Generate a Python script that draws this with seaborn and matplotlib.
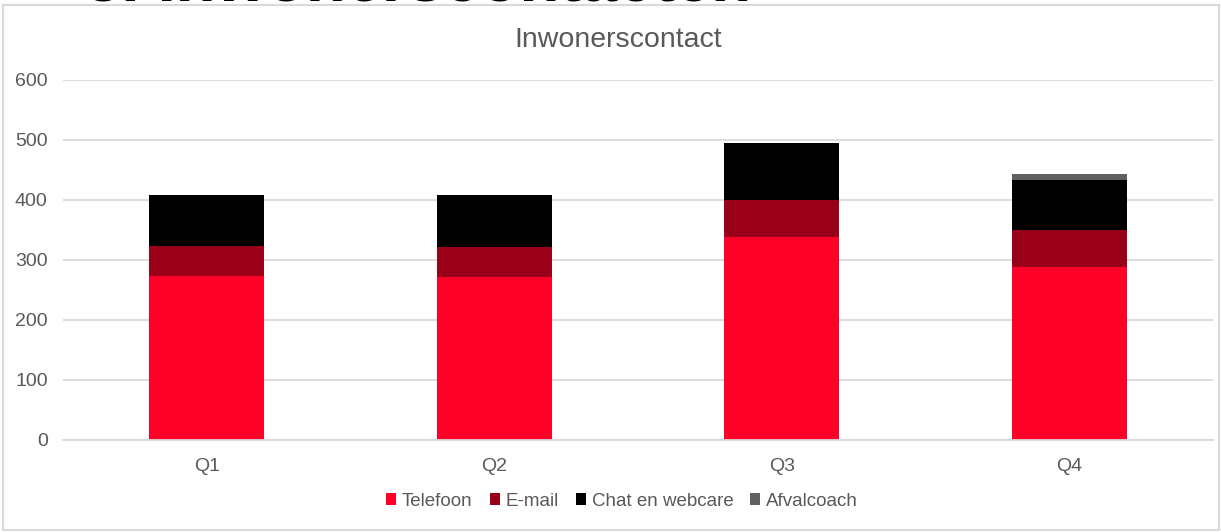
import numpy as np
import pandas as pd
import seaborn as sns
import matplotlib.pyplot as plt
from matplotlib.patches import Rectangle, Patch

# DATA
quarters = ['Q1', 'Q2', 'Q3', 'Q4']
telefoon = [273, 272, 338, 288]
email = [50, 50, 62, 62]
chat = [85, 86, 95, 83]
afvalcoach = [0, 0, 0, 10]

series = ['Telefoon', 'E-mail', 'Chat en webcare', 'Afvalcoach']
colors = ['#FF0029', '#9A0019', '#000000', '#606060']

df = pd.DataFrame({'kwartaal': quarters, 'Telefoon': telefoon, 'E-mail': email,
                   'Chat en webcare': chat, 'Afvalcoach': afvalcoach})

sns.set_style('white')
plt.rcParams['font.family'] = ['Liberation Sans', 'DejaVu Sans']
grey = '#595959'

fig = plt.figure(figsize=(12.21, 5.32), dpi=100)
ax = fig.add_axes([63 / 1221, 92.5 / 532, 1150 / 1221, 359.5 / 532])

bottom = np.zeros(len(quarters))
for name, col in zip(series, colors):
    sns.barplot(data=df, x='kwartaal', y=name, order=quarters, color=col,
                width=0.4, bottom=bottom, ax=ax, saturation=1, linewidth=0)
    bottom = bottom + df[name].values

ax.set_xlim(-0.5, 3.5)
ax.set_ylim(0, 600)
ax.set_yticks(range(0, 601, 100))
ax.yaxis.grid(True, color='#d9d9d9', linewidth=1.3)
ax.set_axisbelow(True)
for s in ['top', 'right', 'left']:
    ax.spines[s].set_visible(False)
ax.spines['bottom'].set_color('#d9d9d9')
ax.spines['bottom'].set_linewidth(1.3)
ax.tick_params(axis='both', length=0, labelsize=14, labelcolor=grey)
ax.tick_params(axis='y', pad=11)
ax.tick_params(axis='x', pad=13)
ax.set_xlabel('')
ax.set_ylabel('')

fig.text(0.5065, 1 - 40 / 532, 'Inwonerscontact', ha='center', va='center',
         fontsize=20.5, color=grey)

# cut-off slide heading above the chart
fig.text(0.07, 1 - 1 / 532, '3. Inwonerscontacten', ha='left', va='baseline',
         fontsize=47, fontweight='bold', color='black')

handles = [Patch(facecolor=c, edgecolor='none') for c in colors]
fig.legend(handles, series, loc='center', bbox_to_anchor=(622 / 1221, 1 - 501 / 532),
           ncol=4, frameon=False, fontsize=13.5, labelcolor=grey,
           handlelength=0.55, handleheight=0.55, handletextpad=0.3, columnspacing=0.9)

fig.patches.append(Rectangle((3 / 1221, 2 / 532), 1216 / 1221, 525 / 532,
                             transform=fig.transFigure, fill=False,
                             edgecolor='#d9d9d9', linewidth=1.5))

fig.savefig('out.png', dpi=100)
